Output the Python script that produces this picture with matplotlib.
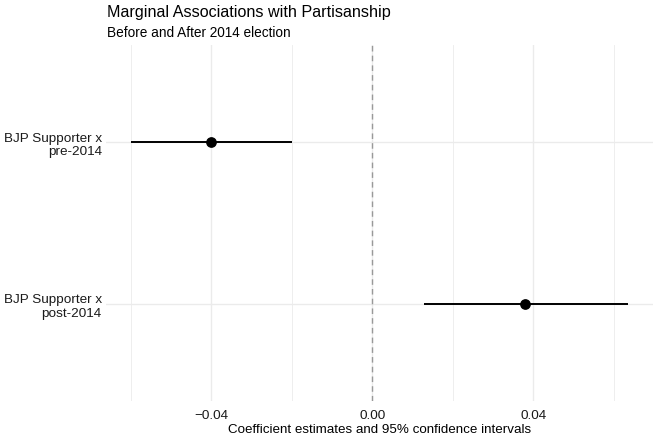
import numpy as np
import matplotlib.pyplot as plt
from matplotlib.ticker import FixedLocator

plt.rcParams['font.family'] = ['Liberation Sans', 'DejaVu Sans']

# Coefficients and 95% CIs
terms = ['BJP Supporter x\npre-2014', 'BJP Supporter x\npost-2014']
estimates = [-0.040, 0.038]
ci_low = [-0.060, 0.0129]
ci_high = [-0.0199, 0.0636]
major_ticks = [-0.04, 0.00, 0.04]
minor_ticks = [-0.06, -0.02, 0.02, 0.06]

fig = plt.figure(figsize=(6.57, 4.39), dpi=100)
ax = fig.add_axes([0.1613, 0.0843, 0.8326, 0.8109])

ypos = np.arange(len(terms))[::-1] + 1  # first term on top

ax.axvline(0, color='#999999', lw=1.0, ls=(0, (4, 3)), zorder=2)
ax.hlines(ypos, ci_low, ci_high, color='black', lw=1.4, zorder=3)
ax.scatter(estimates, ypos, s=45, color='black', zorder=4)

# ggplot-like expansion
lo, hi = min(ci_low), max(ci_high)
pad = (hi - lo) * 0.05
ax.set_xlim(lo - pad, hi + pad)
ax.set_ylim(0.4, 2.6)

ax.xaxis.set_major_locator(FixedLocator(major_ticks))
ax.xaxis.set_minor_locator(FixedLocator(minor_ticks))
ax.set_xticklabels(['\u22120.04', '0.00', '0.04'])
ax.set_yticks(ypos)
ax.set_yticklabels(terms, ha='right')

ax.grid(True, which='major', color='#ebebeb', lw=1.0, zorder=0)
ax.grid(True, which='minor', axis='x', color='#ebebeb', lw=0.6, zorder=0)
ax.set_axisbelow(True)
for s in ax.spines.values():
    s.set_visible(False)
ax.tick_params(axis='both', which='both', length=0, labelsize=9.7, labelcolor='#1a1a1a')
ax.tick_params(axis='x', pad=6)
ax.tick_params(axis='y', pad=3)

ax.set_xlabel('Coefficient estimates and 95% confidence intervals', fontsize=9.6, labelpad=1, color='black')

fig.text(0.1628, 0.988, 'Marginal Associations with Partisanship', fontsize=11.6, va='top', ha='left')
fig.text(0.1628, 0.940, 'Before and After 2014 election', fontsize=9.8, va='top', ha='left')

fig.savefig('out.png', dpi=100)
